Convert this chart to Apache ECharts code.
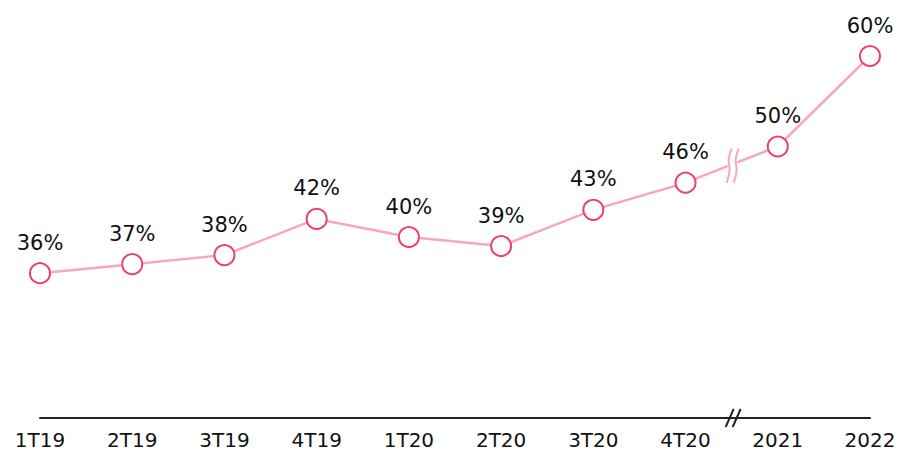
<!DOCTYPE html>
<html>
<head>
<meta charset="utf-8">
<script src="https://cdn.jsdelivr.net/npm/echarts@6/dist/echarts.min.js"></script>
<style>
  html, body { margin: 0; padding: 0; background: #fff; }
  #chart { width: 899px; height: 452px; }
</style>
</head>
<body>
<div id="chart"></div>
<script>
var categories = ['1T19', '2T19', '3T19', '4T19', '1T20', '2T20', '3T20', '4T20', '2021', '2022'];
var values = [36, 37, 38, 42, 40, 39, 43, 46, 50, 60];

var lineColor = '#f7a8bf';
var markerColor = '#e8436b';
var ink = '#111';
var font = 'DejaVu Sans';

var chart = echarts.init(document.getElementById('chart'), null, { renderer: 'svg' });
chart.setOption({
  animation: false,
  grid: { left: 40, right: 29, top: 56, bottom: 34 },
  xAxis: {
    type: 'category',
    data: categories,
    boundaryGap: false,
    axisLine: { lineStyle: { color: '#222', width: 2 } },
    axisTick: { show: false },
    axisLabel: { color: ink, fontSize: 20, fontFamily: font, margin: 12 }
  },
  yAxis: {
    type: 'value',
    min: 20,
    max: 60,
    show: false
  },
  series: [{
    type: 'line',
    data: values,
    symbol: 'circle',
    symbolSize: 20,
    itemStyle: { color: '#fff', borderColor: markerColor, borderWidth: 2 },
    lineStyle: { color: lineColor, width: 2.5 },
    label: {
      show: true,
      position: 'top',
      distance: 9,
      formatter: '{c}%',
      color: ink,
      fontSize: 21,
      fontFamily: font
    },
    z: 3
  }]
});

// break marks between 4T20 and 2021
var p1 = chart.convertToPixel({ seriesIndex: 0 }, [7, values[7]]);
var p2 = chart.convertToPixel({ seriesIndex: 0 }, [8, values[8]]);
var mx = (p1[0] + p2[0]) / 2 + 1;
var my = (p1[1] + p2[1]) / 2 + 1;
var axisY = chart.convertToPixel({ yAxisIndex: 0 }, 20);
var breaks = [];
breaks.push({
  type: 'rect',
  shape: { x: mx - 5, y: my - 4, width: 10, height: 8 },
  style: { fill: '#fff' },
  z: 4
});
[-4, 3].forEach(function (dx) {
  breaks.push({
    type: 'polyline',
    smooth: 0.4,
    shape: { points: [[mx + dx + 3, my - 17], [mx + dx, my - 6], [mx + dx + 1, my + 5], [mx + dx - 2, my + 17]], smooth: 0.4 },
    style: { stroke: lineColor, lineWidth: 2, fill: null },
    z: 5
  });
  breaks.push({
    type: 'line',
    shape: { x1: mx + dx + 5, y1: axisY - 9, x2: mx + dx - 3, y2: axisY + 9 },
    style: { stroke: '#222', lineWidth: 2 },
    z: 5
  });
});
chart.setOption({ graphic: breaks });
</script>
</body>
</html>
